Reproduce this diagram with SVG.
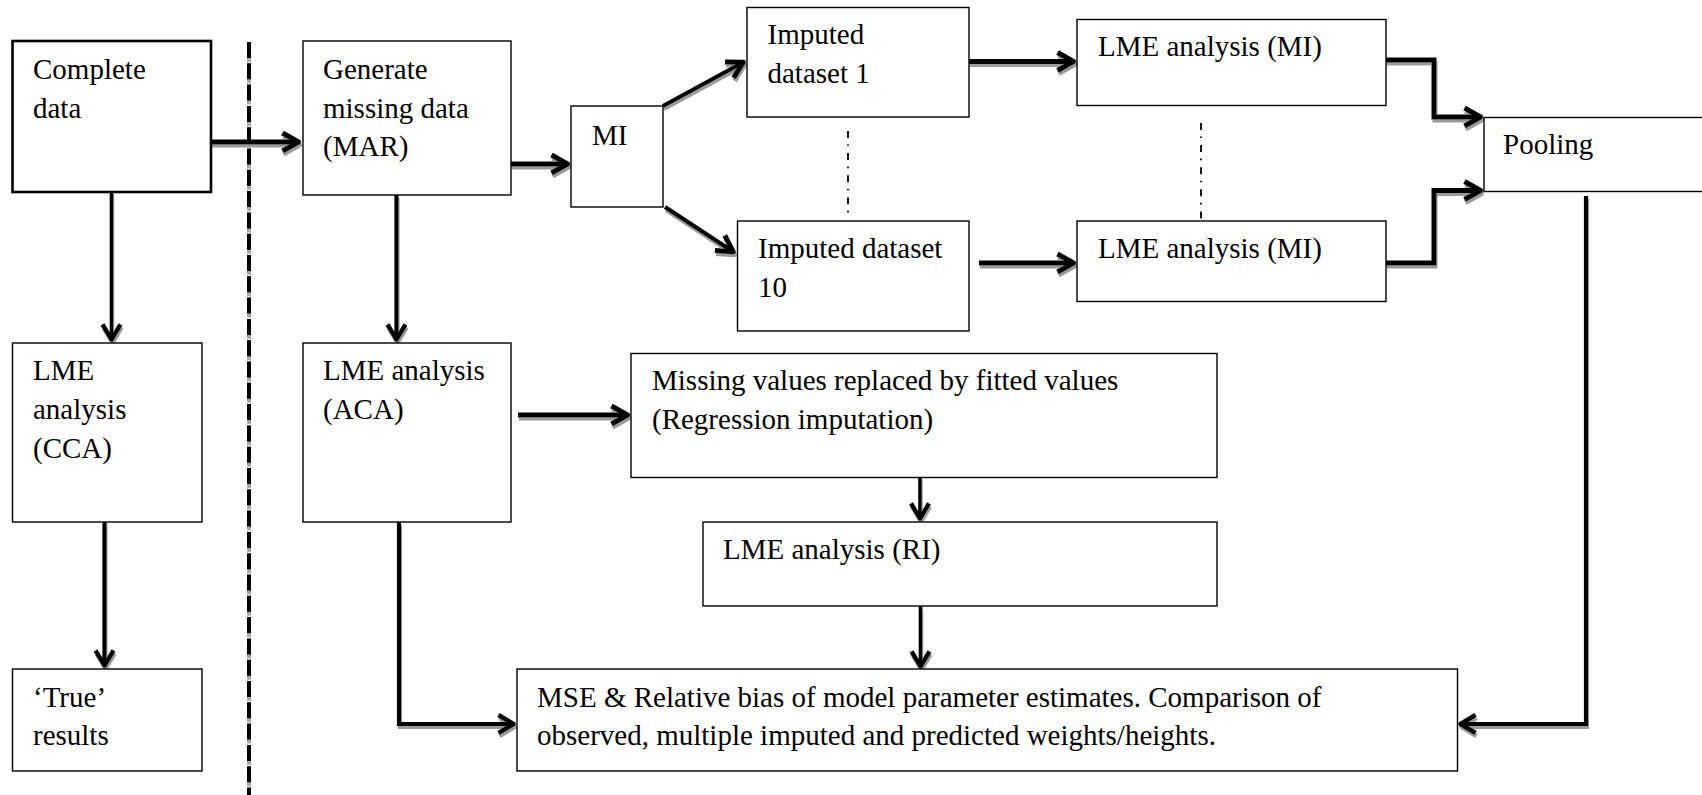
<svg xmlns="http://www.w3.org/2000/svg" width="1702" height="795" viewBox="0 0 1702 795">
  <style>
    .box { fill: #fff; stroke: #000; stroke-width: 1.4; }
    .box.heavy { stroke-width: 2.6; }
    .lbl { font-family: "Liberation Serif", "Times New Roman", serif; font-size: 29px; fill: #000; }
    .conn { fill: none; stroke: #000; stroke-linejoin: miter; }
    .w5 { stroke-width: 5; }
    .w4 { stroke-width: 4.2; }
    .w35 { stroke-width: 3.6; }
    .dashdot { stroke: #000; stroke-width: 1.8; stroke-dasharray: 7 6.5 1.6 7; fill: none; }
  </style>
  <defs>
    <!-- open chevron arrowheads -->
    <marker id="head" markerUnits="userSpaceOnUse" orient="auto" refX="-1.5" refY="0" markerWidth="24" markerHeight="24" overflow="visible">
      <path d="M-16,-9 L0,0 L-16,9" fill="none" stroke="#000" stroke-width="5" stroke-linejoin="round" stroke-linecap="butt"/>
    </marker>
    <marker id="head-s" markerUnits="userSpaceOnUse" orient="auto" refX="-1.5" refY="0" markerWidth="24" markerHeight="24" overflow="visible">
      <path d="M-15,-9 L0,0 L-15,9" fill="none" stroke="#000" stroke-width="4.4" stroke-linejoin="round" stroke-linecap="butt"/>
    </marker>
    <!-- grey drop shadow under connectors -->
    <filter id="shadow" filterUnits="userSpaceOnUse" x="0" y="0" width="1702" height="795">
      <feOffset in="SourceAlpha" dx="0.6" dy="2.6" result="off"/>
      <feFlood flood-color="#9a9a9a"/>
      <feComposite in2="off" operator="in" result="sh"/>
      <feMerge>
        <feMergeNode in="sh"/>
        <feMergeNode in="SourceGraphic"/>
      </feMerge>
    </filter>
  </defs>

  <rect width="1702" height="795" fill="#fff"/>

  <!-- vertical divider between reference and simulation branches -->
  <g id="divider">
    <line x1="249" y1="42" x2="249" y2="795" stroke="#a8a8a8" stroke-width="4" stroke-dasharray="20 1.3"/>
    <line x1="249" y1="42" x2="249" y2="795" stroke="#000" stroke-width="4" stroke-dasharray="16 5.3"/>
  </g>

  <!-- dash-dot ellipsis between imputed datasets -->
  <g id="ellipsis">
    <line class="dashdot" x1="848" y1="131" x2="848" y2="214"/>
    <line class="dashdot" x1="1201" y1="123" x2="1201" y2="220"/>
  </g>

  <g id="connectors" filter="url(#shadow)">
    <path class="conn w5" d="M211,142 H297" marker-end="url(#head)"/>
    <path class="conn w35" d="M111.5,192 V338" marker-end="url(#head-s)"/>
    <path class="conn w4" d="M396.5,195 V338" marker-end="url(#head-s)"/>
    <path class="conn w5" d="M511,164 H566" marker-end="url(#head)"/>
    <path class="conn w4" d="M663,106 L742,63" marker-end="url(#head)"/>
    <path class="conn w4" d="M665,207 L732,251" marker-end="url(#head)"/>
    <path class="conn w5" d="M969,61.5 H1072" marker-end="url(#head)"/>
    <path class="conn w5" d="M979,263 H1072" marker-end="url(#head)"/>
    <path class="conn w5" d="M1386,60 H1434 V117 H1479" marker-end="url(#head)"/>
    <path class="conn w5" d="M1386,263 H1434 V190.5 H1479" marker-end="url(#head)"/>
    <path class="conn w4" d="M1586,196 V724 H1462" marker-end="url(#head-s)"/>
    <path class="conn w4" d="M104.5,522 V664" marker-end="url(#head-s)"/>
    <path class="conn w4" d="M399,522 V724 H512" marker-end="url(#head-s)"/>
    <path class="conn w5" d="M518,415 H626" marker-end="url(#head)"/>
    <path class="conn w35" d="M920,477 V517" marker-end="url(#head-s)"/>
    <path class="conn w35" d="M920.5,606 V665" marker-end="url(#head-s)"/>
  </g>

  <g id="complete-data">
    <rect class="box heavy" x="12.5" y="41" width="198.5" height="151"/>
    <text class="lbl" x="33" y="79">Complete</text>
    <text class="lbl" x="33" y="118">data</text>
  </g>

  <g id="generate-missing">
    <rect class="box" x="303" y="41" width="208" height="154"/>
    <text class="lbl" x="323" y="79">Generate</text>
    <text class="lbl" x="323" y="117.5">missing data</text>
    <text class="lbl" x="323" y="156">(MAR)</text>
  </g>

  <g id="mi">
    <rect class="box" x="571" y="106" width="92" height="101"/>
    <text class="lbl" x="592" y="145">MI</text>
  </g>

  <g id="imputed-1">
    <rect class="box" x="747" y="7.5" width="222" height="109.5"/>
    <text class="lbl" x="767.5" y="44">Imputed</text>
    <text class="lbl" x="767.5" y="82.5">dataset 1</text>
  </g>

  <g id="imputed-10">
    <rect class="box" x="737.5" y="221" width="231.5" height="110"/>
    <text class="lbl" x="758" y="257.5">Imputed dataset</text>
    <text class="lbl" x="758" y="296.5">10</text>
  </g>

  <g id="lme-mi-1">
    <rect class="box" x="1077" y="19.5" width="309" height="86"/>
    <text class="lbl" x="1098" y="56">LME analysis (MI)</text>
  </g>

  <g id="lme-mi-10">
    <rect class="box" x="1077" y="221" width="309" height="80.5"/>
    <text class="lbl" x="1098" y="257.5">LME analysis (MI)</text>
  </g>

  <g id="pooling">
    <rect class="box" x="1484" y="117.5" width="225" height="74"/>
    <text class="lbl" x="1503" y="154">Pooling</text>
  </g>

  <g id="lme-cca">
    <rect class="box" x="12.5" y="343" width="189.5" height="179"/>
    <text class="lbl" x="33" y="380">LME</text>
    <text class="lbl" x="33" y="419">analysis</text>
    <text class="lbl" x="33" y="458">(CCA)</text>
  </g>

  <g id="true-results">
    <rect class="box" x="12.5" y="669" width="189.5" height="102"/>
    <text class="lbl" x="33" y="706.5">‘True’</text>
    <text class="lbl" x="33" y="745">results</text>
  </g>

  <g id="lme-aca">
    <rect class="box" x="303" y="343" width="208" height="179"/>
    <text class="lbl" x="323" y="380">LME analysis</text>
    <text class="lbl" x="323" y="419">(ACA)</text>
  </g>

  <g id="regression-imputation">
    <rect class="box" x="631" y="353.5" width="586" height="124"/>
    <text class="lbl" x="652" y="390">Missing values replaced by fitted values</text>
    <text class="lbl" x="652" y="428.5">(Regression imputation)</text>
  </g>

  <g id="lme-ri">
    <rect class="box" x="703" y="522" width="514" height="84"/>
    <text class="lbl" x="723" y="558.5">LME analysis (RI)</text>
  </g>

  <g id="comparison">
    <rect class="box" x="517" y="669" width="940.5" height="102"/>
    <text class="lbl" x="537" y="706.5">MSE &amp; Relative bias of model parameter estimates. Comparison of</text>
    <text class="lbl" x="537" y="745">observed, multiple imputed and predicted weights/heights.</text>
  </g>
</svg>
